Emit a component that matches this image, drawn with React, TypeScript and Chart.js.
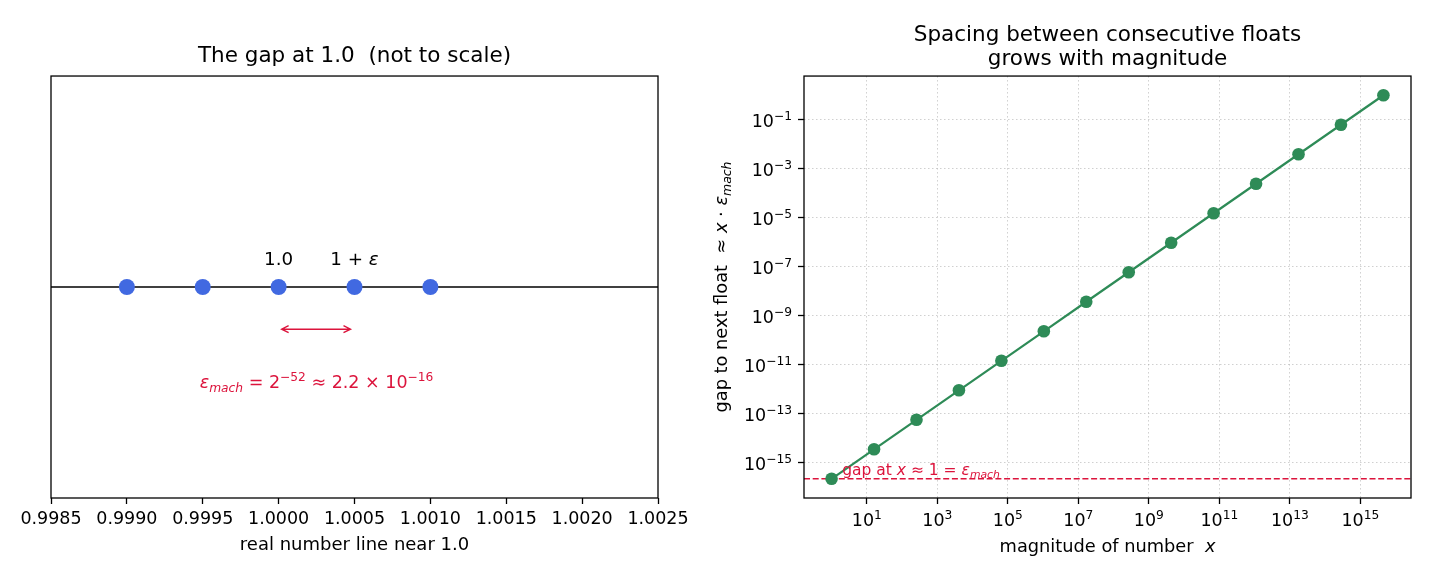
import React, { useEffect, useRef } from "react";
import { Chart, registerables } from "chart.js";

Chart.register(...registerables);

const FONT = "'DejaVu Sans', 'Liberation Sans', sans-serif";
const BLUE = "#4169E1";
const RED = "#DC143C";
const GREEN = "#2E8B57";

// ---------- Left panel: the number line near 1.0 ----------
const LEFT_TITLE = "The gap at 1.0  (not to scale)";
const LEFT_XLABEL = "real number line near 1.0";
const LEFT_POINTS_X = [0.999, 0.9995, 1.0, 1.0005, 1.001];
const LEFT_POINTS_Y = [0, 0, 0, 0, 0];
const LEFT_XTICKS = [0.9985, 0.999, 0.9995, 1.0, 1.0005, 1.001, 1.0015, 1.002, 1.0025];
const LEFT_XLIM = [0.9985, 1.0025];
const LEFT_YLIM = [-1, 1];
const LEFT_MARK_X = [1.0, 1.0005]; // "1.0" and "1 + ε"
const GAP_FROM = 1.0;
const GAP_TO = 1.0005;

// ---------- Right panel: spacing vs magnitude ----------
const RIGHT_TITLE = ["Spacing between consecutive floats", "grows with magnitude"];
const MAGNITUDES = [
  1, 16, 256, 4096, 65536, 1048576, 16777216, 268435456, 4294967296,
  68719476736, 1099511627776, 17592186044416, 281474976710656, 4503599627370496,
];
const GAPS = [
  2.220446e-16, 3.552714e-15, 5.684342e-14, 9.094947e-13, 1.455192e-11, 2.328306e-10,
  3.725290e-9, 5.960464e-8, 9.536743e-7, 1.525879e-5, 2.441406e-4, 3.90625e-3, 6.25e-2, 1.0,
];
const EPS_MACH = 2.220446e-16;
const RIGHT_XLIM = [0.1649, 2.73e16];
const RIGHT_YLIM = [3.66e-17, 6.06];
const RIGHT_XTICKS = [1e1, 1e3, 1e5, 1e7, 1e9, 1e11, 1e13, 1e15];
const RIGHT_YTICKS = [1e-15, 1e-13, 1e-11, 1e-9, 1e-7, 1e-5, 1e-3, 1e-1];
const EPS_LABEL_X = 2;

type Seg = { t: string; s: number; it?: boolean; dy?: number };

function drawRich(
  ctx: CanvasRenderingContext2D,
  segs: Seg[],
  x: number,
  y: number,
  align: "left" | "center" | "right",
  color: string,
  rot = 0
) {
  ctx.save();
  ctx.translate(x, y);
  if (rot) ctx.rotate(rot);
  ctx.fillStyle = color;
  ctx.textBaseline = "alphabetic";
  ctx.textAlign = "left";
  const f = (g: Seg) => `${g.it ? "italic " : ""}${g.s}px ${FONT}`;
  let w = 0;
  for (const g of segs) {
    ctx.font = f(g);
    w += ctx.measureText(g.t).width;
  }
  let cx = align === "center" ? -w / 2 : align === "right" ? -w : 0;
  for (const g of segs) {
    ctx.font = f(g);
    ctx.fillText(g.t, cx, g.dy || 0);
    cx += ctx.measureText(g.t).width;
  }
  ctx.restore();
}

const TS = 17.5; // tick label size

function powSegs(v: number): Seg[] {
  const e = Math.round(Math.log10(v));
  return [
    { t: "10", s: TS },
    { t: String(e).replace("-", "−"), s: TS * 0.7, dy: -TS * 0.42 },
  ];
}

function drawFrame(chart: any) {
  const { ctx, chartArea: a } = chart;
  ctx.save();
  ctx.strokeStyle = "#000";
  ctx.lineWidth = 1.3;
  ctx.strokeRect(a.left, a.top, a.right - a.left, a.bottom - a.top);
  ctx.restore();
}

const leftDecor = {
  id: "leftDecor",
  beforeDatasetsDraw(chart: any) {
    const { ctx, chartArea: a, scales } = chart;
    const y0 = scales.y.getPixelForValue(0);
    ctx.save();
    ctx.strokeStyle = "#000";
    ctx.lineWidth = 1.5;
    ctx.beginPath();
    ctx.moveTo(a.left, y0);
    ctx.lineTo(a.right, y0);
    ctx.stroke();
    ctx.restore();
  },
  afterDatasetsDraw(chart: any) {
    const { ctx, scales } = chart;
    const xs = scales.x;
    const ys = scales.y;
    const S = 18.3;
    const ly = ys.getPixelForValue(0.1) - 1;
    drawRich(ctx, [{ t: "1.0", s: S }], xs.getPixelForValue(LEFT_MARK_X[0]), ly, "center", "#000");
    drawRich(
      ctx,
      [{ t: "1 + ", s: S }, { t: "ε", s: S, it: true }],
      xs.getPixelForValue(LEFT_MARK_X[1]),
      ly,
      "center",
      "#000"
    );
    // double-headed arrow
    const ay = ys.getPixelForValue(-0.2);
    const x1 = xs.getPixelForValue(GAP_FROM) + 3;
    const x2 = xs.getPixelForValue(GAP_TO) - 4;
    ctx.save();
    ctx.strokeStyle = RED;
    ctx.lineWidth = 1.4;
    ctx.beginPath();
    ctx.moveTo(x1, ay);
    ctx.lineTo(x2, ay);
    ctx.moveTo(x1 + 7, ay - 3.5);
    ctx.lineTo(x1, ay);
    ctx.lineTo(x1 + 7, ay + 3.5);
    ctx.moveTo(x2 - 7, ay - 3.5);
    ctx.lineTo(x2, ay);
    ctx.lineTo(x2 - 7, ay + 3.5);
    ctx.stroke();
    ctx.restore();
    // epsilon text
    const R = 17.5;
    drawRich(
      ctx,
      [
        { t: "ε", s: R, it: true },
        { t: "mach", s: R * 0.7, it: true, dy: R * 0.22 },
        { t: " = 2", s: R },
        { t: "−52", s: R * 0.7, dy: -R * 0.42 },
        { t: " ≈ 2.2 × 10", s: R },
        { t: "−16", s: R * 0.7, dy: -R * 0.42 },
      ],
      xs.getPixelForValue((GAP_FROM + GAP_TO) / 2),
      ys.getPixelForValue(-0.45) + 6,
      "center",
      RED
    );
  },
  afterDraw(chart: any) {
    drawFrame(chart);
  },
};

const rightDecor = {
  id: "rightDecor",
  beforeDatasetsDraw(chart: any) {
    const { ctx, chartArea: a, scales } = chart;
    const ye = scales.y.getPixelForValue(EPS_MACH);
    ctx.save();
    ctx.strokeStyle = RED;
    ctx.lineWidth = 1.4;
    ctx.setLineDash([6, 2.7]);
    ctx.beginPath();
    ctx.moveTo(a.left, ye);
    ctx.lineTo(a.right, ye);
    ctx.stroke();
    ctx.restore();
  },
  afterDatasetsDraw(chart: any) {
    const { ctx, chartArea: a, scales } = chart;
    const S = 15.5;
    drawRich(
      ctx,
      [
        { t: "gap at ", s: S },
        { t: "x", s: S, it: true },
        { t: " ≈ 1 = ", s: S },
        { t: "ε", s: S, it: true },
        { t: "mach", s: S * 0.7, it: true, dy: S * 0.22 },
      ],
      scales.x.getPixelForValue(EPS_LABEL_X),
      scales.y.getPixelForValue(EPS_MACH) - 4,
      "left",
      RED
    );
  },
  afterDraw(chart: any) {
    const { ctx, chartArea: a, scales } = chart;
    // tick labels with real superscripts
    for (const v of RIGHT_XTICKS) {
      drawRich(ctx, powSegs(v), scales.x.getPixelForValue(v), a.bottom + 28, "center", "#000");
    }
    for (const v of RIGHT_YTICKS) {
      drawRich(ctx, powSegs(v), a.left - 12, scales.y.getPixelForValue(v) + 7.4, "right", "#000");
    }
    // axis titles
    const L = 17.8;
    drawRich(
      ctx,
      [{ t: "magnitude of number  ", s: L }, { t: "x", s: L, it: true }],
      (a.left + a.right) / 2,
      552,
      "center",
      "#000"
    );
    drawRich(
      ctx,
      [
        { t: "gap to next float  ≈ ", s: L },
        { t: "x", s: L, it: true },
        { t: " · ", s: L },
        { t: "ε", s: L, it: true },
        { t: "mach", s: L * 0.7, it: true, dy: L * 0.22 },
      ],
      37,
      (a.top + a.bottom) / 2,
      "center",
      "#000",
      -Math.PI / 2
    );
    drawFrame(chart);
  },
};

const tickFont = { family: FONT, size: TS };
const titleFont = { family: FONT, size: 21.5, weight: "normal" as const, lineHeight: 1.15 };

const logGrid = {
  color: "rgba(170,170,170,0.55)",
  lineWidth: 1,
  drawOnChartArea: true,
  drawTicks: true,
  tickLength: 6,
  tickColor: "#000",
  tickWidth: 1.3,
};

export default function App() {
  const leftRef = useRef<HTMLCanvasElement | null>(null);
  const rightRef = useRef<HTMLCanvasElement | null>(null);

  useEffect(() => {
    const left = new Chart(leftRef.current as HTMLCanvasElement, {
      type: "scatter",
      data: {
        datasets: [
          {
            data: LEFT_POINTS_X.map((x, i) => ({ x, y: LEFT_POINTS_Y[i] })),
            backgroundColor: BLUE,
            borderColor: BLUE,
            borderWidth: 0,
            pointRadius: 8,
            pointHoverRadius: 8,
          },
        ],
      },
      options: {
        responsive: false,
        animation: false,
        events: [],
        layout: { padding: { left: 51, right: 57, top: 0, bottom: 0 } },
        plugins: {
          legend: { display: false },
          tooltip: { enabled: false },
          title: {
            display: true,
            text: LEFT_TITLE,
            color: "#000",
            font: titleFont,
            padding: { top: 44.5, bottom: 6.8 },
            fullSize: false,
          },
        },
        scales: {
          x: {
            type: "linear",
            min: LEFT_XLIM[0],
            max: LEFT_XLIM[1],
            afterBuildTicks: (s: any) => {
              s.ticks = LEFT_XTICKS.map((v) => ({ value: v }));
            },
            afterFit: (s: any) => {
              s.height = 87;
            },
            ticks: {
              color: "#000",
              font: tickFont,
              padding: 5,
              autoSkip: false,
              maxRotation: 0,
              callback: (v: any) => Number(v).toFixed(4),
            },
            grid: {
              drawOnChartArea: false,
              drawTicks: true,
              tickLength: 6,
              tickColor: "#000",
              tickWidth: 1.3,
            },
            border: { display: false },
            title: {
              display: true,
              text: LEFT_XLABEL,
              color: "#000",
              font: { family: FONT, size: 18 },
              padding: { top: 0, bottom: 28.5 },
            },
          },
          y: { type: "linear", min: LEFT_YLIM[0], max: LEFT_YLIM[1], display: false },
        },
      },
      plugins: [leftDecor],
    } as any);

    const right = new Chart(rightRef.current as HTMLCanvasElement, {
      type: "scatter",
      data: {
        datasets: [
          {
            data: MAGNITUDES.map((x, i) => ({ x, y: GAPS[i] })),
            showLine: true,
            borderColor: GREEN,
            backgroundColor: GREEN,
            borderWidth: 2.2,
            pointRadius: 6.3,
            pointHoverRadius: 6.3,
            pointBorderWidth: 0,
            pointBackgroundColor: GREEN,
          },
        ],
      },
      options: {
        responsive: false,
        animation: false,
        events: [],
        layout: { padding: { left: 0, right: 19, top: 0, bottom: 0 } },
        plugins: {
          legend: { display: false },
          tooltip: { enabled: false },
          title: {
            display: true,
            text: RIGHT_TITLE,
            color: "#000",
            font: titleFont,
            padding: { top: 22.6, bottom: 4 },
            fullSize: false,
          },
        },
        scales: {
          x: {
            type: "logarithmic",
            min: RIGHT_XLIM[0],
            max: RIGHT_XLIM[1],
            afterBuildTicks: (s: any) => {
              s.ticks = RIGHT_XTICKS.map((v) => ({ value: v }));
            },
            afterFit: (s: any) => {
              s.height = 87;
            },
            ticks: { display: false, autoSkip: false, maxRotation: 0 },
            grid: logGrid,
            border: { display: false, dash: [1.5, 2.5] },
          },
          y: {
            type: "logarithmic",
            min: RIGHT_YLIM[0],
            max: RIGHT_YLIM[1],
            afterBuildTicks: (s: any) => {
              s.ticks = RIGHT_YTICKS.map((v) => ({ value: v }));
            },
            afterFit: (s: any) => {
              s.width = 114;
            },
            ticks: { display: false, autoSkip: false },
            grid: logGrid,
            border: { display: false, dash: [1.5, 2.5] },
          },
        },
      },
      plugins: [rightDecor],
    } as any);

    return () => {
      left.destroy();
      right.destroy();
    };
  }, []);

  return (
    <div
      style={{
        position: "absolute",
        left: 0,
        top: 0,
        width: 1430,
        height: 585,
        background: "#fff",
        overflow: "hidden",
      }}
    >
      <canvas
        ref={leftRef}
        width={715}
        height={585}
        style={{ position: "absolute", left: 0, top: 0, width: 715, height: 585 }}
      />
      <canvas
        ref={rightRef}
        width={740}
        height={585}
        style={{ position: "absolute", left: 690, top: 0, width: 740, height: 585 }}
      />
    </div>
  );
}
